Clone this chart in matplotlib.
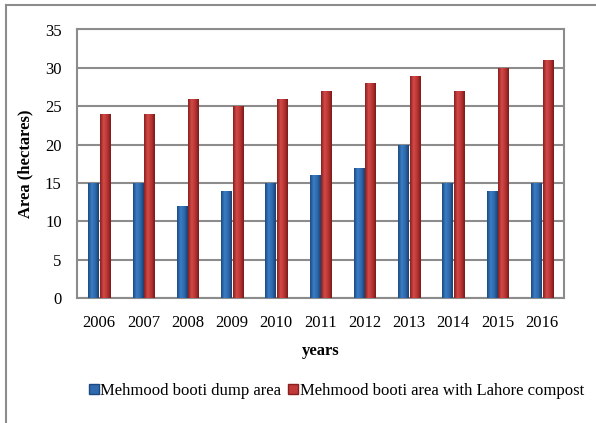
import numpy as np
import matplotlib.pyplot as plt
from matplotlib.colors import LinearSegmentedColormap
from matplotlib.lines import Line2D

plt.rcParams['font.family'] = ['Liberation Serif', 'DejaVu Serif']

# Data
years = ['2006', '2007', '2008', '2009', '2010', '2011', '2012', '2013', '2014', '2015', '2016']
dump_area = [15, 15, 12, 14, 15, 16, 17, 20, 15, 14, 15]
compost_area = [24, 24, 26, 25, 26, 27, 28, 29, 27, 30, 31]
series_names = ['Mehmood booti dump area', 'Mehmood booti area with Lahore compost']

blue_cmap = LinearSegmentedColormap.from_list('b', ['#1c4a80', '#3a7cc4', '#2f6aae', '#1a3f6e'])
red_cmap = LinearSegmentedColormap.from_list('r', ['#8a1f1f', '#d24a48', '#b83433', '#7a1a1a'])

fig = plt.figure(figsize=(5.96, 4.23), dpi=100)
ax = fig.add_axes([77 / 596, (423 - 298) / 423, 487 / 596, (298 - 29.5) / 423])

x = np.arange(len(years))
w = 0.23
off = 0.13
grad = np.linspace(0, 1, 64).reshape(1, -1)

def gradient_bars(bars, cmap):
    for b in bars:
        b.set_facecolor('none')
        x0, y0 = b.get_x(), b.get_y()
        im = ax.imshow(grad, cmap=cmap, aspect='auto',
                       extent=[x0, x0 + b.get_width(), y0, y0 + b.get_height()],
                       zorder=3)
        im.set_clip_path(b)

b1 = ax.bar(x - off, dump_area, w, zorder=3, linewidth=0)
b2 = ax.bar(x + off, compost_area, w, zorder=3, linewidth=0)
gradient_bars(b1, blue_cmap)
gradient_bars(b2, red_cmap)

ax.set_xlim(-0.5, len(years) - 0.5)
ax.set_ylim(0, 35)
ax.set_yticks(range(0, 36, 5))
ax.set_xticks(x)
ax.set_xticklabels(years)
ax.tick_params(length=0, labelsize=12)
ax.tick_params(axis='x', pad=12)
ax.tick_params(axis='y', pad=11)
ax.yaxis.grid(True, color='#8c8c8c', linewidth=1.5, zorder=0)
ax.set_axisbelow(True)
for s in ax.spines.values():
    s.set_color('#8c8c8c')
    s.set_linewidth(1.5)

ax.set_ylabel('Area (hectares)', fontsize=12, fontweight='bold', labelpad=8)
ax.set_xlabel('years', fontsize=12, fontweight='bold', labelpad=9)

handles = [plt.Rectangle((0, 0), 1, 1, facecolor='#2f6aae', edgecolor='#1c4a80'),
           plt.Rectangle((0, 0), 1, 1, facecolor='#c03a39', edgecolor='#8a1f1f')]
fig.legend(handles, series_names, loc='center', bbox_to_anchor=(0.564, 1 - 391 / 423),
           ncol=2, frameon=False, fontsize=12, handlelength=0.6, handleheight=0.6,
           handletextpad=0.1, columnspacing=0.4)

# outer chart frame
fig.add_artist(Line2D([6 / 596, 6 / 596], [0, 1 - 5 / 423], color='#8c8c8c', lw=1.5))
fig.add_artist(Line2D([6 / 596, 1], [1 - 5 / 423, 1 - 5 / 423], color='#8c8c8c', lw=1.5))

fig.savefig('out.png', dpi=100)
